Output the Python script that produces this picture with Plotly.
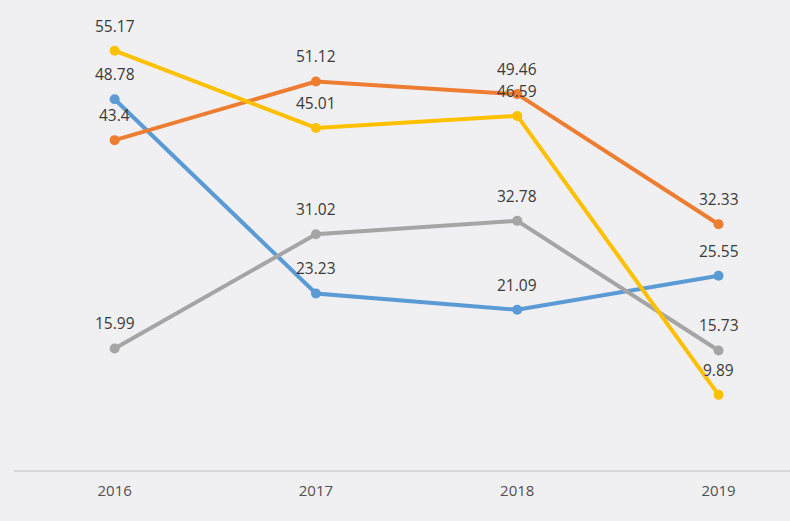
import plotly.graph_objects as go

years = ["2016", "2017", "2018", "2019"]
blue = [48.78, 23.23, 21.09, 25.55]
orange = [43.4, 51.12, 49.46, 32.33]
gray = [15.99, 31.02, 32.78, 15.73]
yellow = [55.17, 45.01, 46.59, 9.89]

series = [
    ("blue", blue, "#5B9BD5"),
    ("orange", orange, "#ED7D31"),
    ("gray", gray, "#A5A5A5"),
    ("yellow", yellow, "#FFC000"),
]

fig = go.Figure()
annotations = []
for name, vals, color in series:
    fig.add_trace(go.Scatter(
        x=years, y=vals, mode="lines+markers", name=name,
        line=dict(color=color, width=4),
        marker=dict(color=color, size=10),
        showlegend=False,
    ))
    for i, yv in enumerate(vals):
        annotations.append(dict(
            x=i, y=yv, xref="x", yref="y", text=f"{yv:g}", showarrow=False,
            yshift=25, xanchor="center", yanchor="middle",
            font=dict(size=15.5, color="#3a3a3a", family="Open Sans"),
        ))

fig.update_layout(
    width=790, height=521,
    margin=dict(l=14, r=0, t=14, b=51),
    paper_bgcolor="#f0eff1",
    plot_bgcolor="#f0eff1",
    annotations=annotations,
    xaxis=dict(
        type="category", range=[-0.5, 3.355],
        showgrid=False, zeroline=False,
        showline=True, linecolor="#d6d5d7", linewidth=1.5,
        ticks="", tickfont=dict(size=15, color="#505050", family="Open Sans"),
        ticklabelstandoff=6,
    ),
    yaxis=dict(
        range=[0, 60], showgrid=False, zeroline=False,
        showticklabels=False, showline=False,
    ),
)

fig.write_html("out.html", config={"displayModeBar": False},
               post_script="document.body.style.margin='0';")
